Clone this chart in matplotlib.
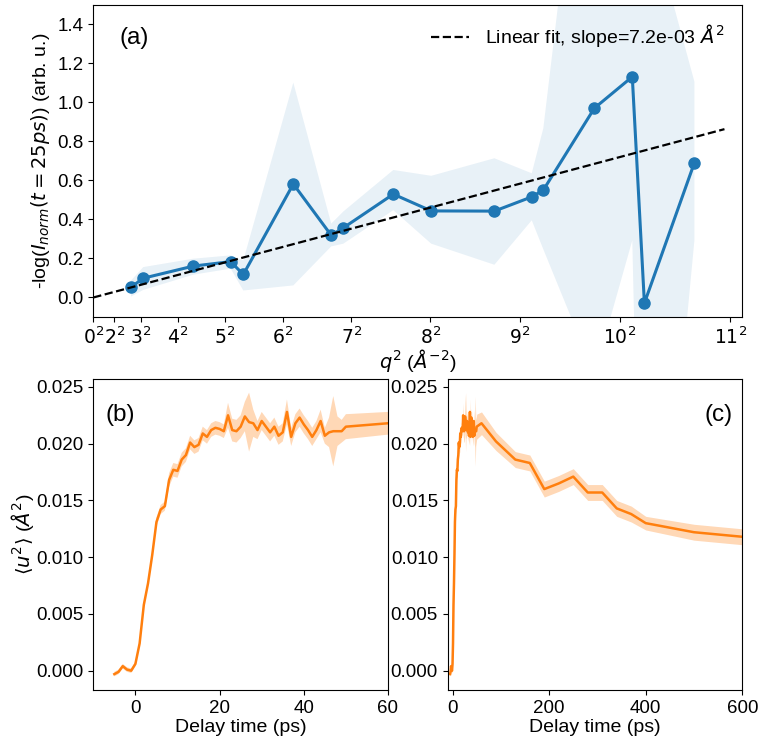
import numpy as np
import matplotlib
matplotlib.use("Agg")
import matplotlib.pyplot as plt

plt.rcParams['font.family'] = ['Liberation Sans', 'DejaVu Sans']
plt.rcParams['mathtext.fontset'] = 'dejavusans'

# ---- panel (a) data ----
q2 = [7.17, 9.5, 19.0, 26.1, 28.5, 38.0, 45.2, 47.5, 57.0, 64.2, 76.2, 83.3, 85.5,
      95.2, 102.4, 104.7, 114.2]
neglog = [0.053, 0.099, 0.161, 0.184, 0.118, 0.582, 0.319, 0.357, 0.530, 0.444, 0.443,
          0.516, 0.551, 0.971, 1.132, -0.029, 0.691]
band_hi = [0.087, 0.156, 0.199, 0.216, 0.19, 1.102, 0.379, 0.441, 0.654, 0.624, 0.714,
           0.637, 0.868, 3.06, 2.5, 2.05, 1.107]
band_lo = [0.005, 0.039, 0.117, 0.148, 0.036, 0.062, 0.262, 0.276, 0.448, 0.276, 0.168,
           0.396, 0.247, -0.394, 0.293, -2.42, 0.293]
slope = 7.2e-3
q_ticks = [0, 2, 3, 4, 5, 6, 7, 8, 9, 10, 11]

# ---- panels (b), (c) data ----
t = [-5, -4, -3, -2, -1, 0, 1, 2, 3, 4, 5, 6, 7, 8, 9, 10, 11, 12, 13, 14, 15, 16, 17,
     18, 19, 20, 21, 22, 23, 24, 25, 26, 27, 28, 29, 30, 31, 32, 33, 34, 35, 36, 37,
     38, 39, 40, 41, 42, 43, 44, 45, 46, 47, 48, 49, 50,
     60, 90, 130, 160, 190, 220, 250, 280, 310, 340, 370, 400, 500, 600]
u2 = [-0.0003, -0.0001, 0.0004, 0.0001, 0.0000, 0.0006, 0.0024, 0.0058, 0.0077, 0.0102,
      0.0131, 0.0142, 0.0145, 0.0168, 0.0177, 0.0176, 0.0186, 0.0190, 0.0201, 0.0197,
      0.0199, 0.0209, 0.0206, 0.0212, 0.0214, 0.0213, 0.0211, 0.0225, 0.0212, 0.0211,
      0.0215, 0.0224, 0.0219, 0.0218, 0.0212, 0.0220, 0.0215, 0.0210, 0.0215, 0.0207,
      0.0210, 0.0228, 0.0206, 0.0218, 0.0223, 0.0217, 0.0212, 0.0206, 0.0212, 0.0220,
      0.0207, 0.0210, 0.0211, 0.0211, 0.0211, 0.0215,
      0.0218, 0.0202, 0.0186, 0.0183, 0.0160, 0.0165, 0.0171, 0.0157, 0.0157, 0.0143,
      0.0138, 0.0130, 0.0122, 0.0118]
u2_err = [0.0002, 0.0002, 0.0002, 0.0002, 0.0002, 0.0002, 0.0002, 0.0002, 0.0003, 0.0003,
          0.0004, 0.0004, 0.0004, 0.0006, 0.0006, 0.0006, 0.0006, 0.0006, 0.0006, 0.0006,
          0.0006, 0.0006, 0.0006, 0.0006, 0.0006, 0.0006, 0.0006, 0.0011, 0.0010, 0.0010,
          0.0010, 0.0013, 0.0026, 0.0012, 0.0008, 0.0008, 0.0008, 0.0008, 0.0008, 0.0008,
          0.0008, 0.0011, 0.0008, 0.0008, 0.0008, 0.0008, 0.0008, 0.0008, 0.0008, 0.0010,
          0.0007, 0.0013, 0.0031, 0.0013, 0.0010, 0.0011,
          0.0010, 0.0008, 0.0007, 0.0007, 0.0007, 0.0007, 0.0007, 0.0007, 0.0007, 0.0007,
          0.0007, 0.0006, 0.0007, 0.0007]

q2 = np.array(q2); neglog = np.array(neglog)
t = np.array(t); u2 = np.array(u2); u2_err = np.array(u2_err)

fig = plt.figure(figsize=(7.61, 7.44), dpi=100)
W, H = 761, 744
def rect(l, r, top, bot):
    return [l / W, (H - bot) / H, (r - l) / W, (bot - top) / H]

axa = fig.add_axes(rect(93.3, 742.3, 5, 317))
axb = fig.add_axes(rect(93.3, 388, 379, 690))
axc = fig.add_axes(rect(447.7, 742.3, 379, 690))

TICK = 13.5
LAB = 14

# (a)
axa.fill_between(q2, band_lo, band_hi, color='C0', alpha=0.1, linewidth=0)
axa.plot(q2, neglog, '-o', color='C0', lw=2.2, ms=8)
xf = np.array([0, q2.max() * 1.05])
axa.plot(xf, slope * xf, '--', color='black', lw=1.6,
         label=r'Linear fit, slope=7.2e-03 $\AA^2$')
axa.set_xlim(0, 123.3)
axa.set_ylim(-0.1, 1.5)
axa.set_xticks([q * q for q in q_ticks])
axa.set_xticklabels([r'$%d^2$' % q for q in q_ticks])
axa.set_yticks([0.0, 0.2, 0.4, 0.6, 0.8, 1.0, 1.2, 1.4])
axa.tick_params(labelsize=TICK)
axa.set_xlabel(r'$q^2$ ($\AA^{-2}$)', fontsize=LAB, labelpad=-1)
axa.set_ylabel(r'-log($I_{norm}(t=25ps)$) (arb. u.)', fontsize=LAB)
axa.legend(loc='upper right', frameon=False, fontsize=LAB)
axa.text(0.041, 0.894, '(a)', transform=axa.transAxes, fontsize=17.5, va='center', ha='left')

# (b)
for ax in (axb, axc):
    ax.fill_between(t, u2 - u2_err, u2 + u2_err, color='C1', alpha=0.3, linewidth=0)
    ax.plot(t, u2, '-', color='C1', lw=1.8)
    ax.set_ylim(-0.0017, 0.0257)
    ax.set_yticks([0.0, 0.005, 0.010, 0.015, 0.020, 0.025])
    ax.set_yticklabels(['0.000', '0.005', '0.010', '0.015', '0.020', '0.025'])
    ax.tick_params(labelsize=TICK)
    ax.set_xlabel('Delay time (ps)', fontsize=LAB, labelpad=2)

axb.set_xlim(-10, 60)
axb.set_xticks([0, 20, 40, 60])
axb.set_ylabel(r'$\langle u^2 \rangle$ ($\AA^2$)', fontsize=LAB, labelpad=0.5)
axb.text(0.043, 0.884, '(b)', transform=axb.transAxes, fontsize=17.5, va='center', ha='left')

axc.set_xlim(-10, 600)
axc.set_xticks([0, 200, 400, 600])
axc.text(0.966, 0.884, '(c)', transform=axc.transAxes, fontsize=17.5, va='center', ha='right')

fig.savefig('out.png', dpi=100)
